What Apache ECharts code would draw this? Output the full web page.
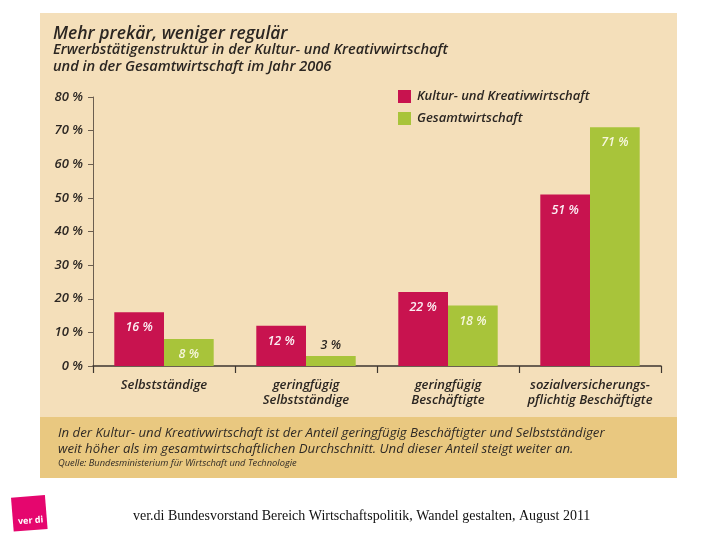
<!DOCTYPE html>
<html>
<head>
<meta charset="utf-8">
<script src="https://cdn.jsdelivr.net/npm/echarts@6/dist/echarts.min.js"></script>
<style>
  * { margin: 0; padding: 0; }
  body { background: #fff; }
</style>
</head>
<body>
<div id="main" style="width: 720px; height: 540px;"></div>
<script>
  // Daten
  var kategorien = ['Selbstständige', 'geringfügig\nSelbstständige', 'geringfügig\nBeschäftigte', 'sozialversicherungs-\npflichtig Beschäftigte']
  var kulturWerte = [16, 12, 22, 51]
  var gesamtWerte = [8, 3, 18, 71]
  var serienNamen = ['Kultur- und Kreativwirtschaft', 'Gesamtwirtschaft']
  var yTicks = [0, 10, 20, 30, 40, 50, 60, 70, 80]

  var schrift = '"Open Sans", "Noto Sans", sans-serif'
  var dunkel = '#2b2622'

  // kleine Werte bekommen das Label über dem Balken
  function labelDaten(werte, hell) {
    return werte.map(function (v) {
      if (v < 5) {
        return { value: v, label: { position: 'top', distance: 4, color: dunkel } }
      }
      return { value: v, label: { color: hell } }
    })
  }

  var chart = echarts.init(document.getElementById('main'))
  chart.setOption({
    backgroundColor: '#ffffff',
    animation: false,
    textStyle: { fontFamily: schrift },
    graphic: [
      { type: 'rect', z: -100, silent: true, shape: { x: 40, y: 13, width: 637, height: 465 }, style: { fill: '#f4dfba' } },
      { type: 'rect', z: -99, silent: true, shape: { x: 40, y: 417, width: 637, height: 61 }, style: { fill: '#e9c880' } },
      { type: 'text', left: 53, top: 25, style: { text: 'Mehr prekär, weniger regulär', font: 'italic 600 17.5px ' + schrift, fill: dunkel } },
      { type: 'text', left: 53, top: 42, style: { text: 'Erwerbstätigenstruktur in der Kultur- und Kreativwirtschaft\nund in der Gesamtwirtschaft im Jahr 2006', font: 'italic 600 14.6px ' + schrift, fill: dunkel, lineHeight: 16.5 } },
      { type: 'text', left: 58, top: 425, style: { text: 'In der Kultur- und Kreativwirtschaft ist der Anteil geringfügig Beschäftigter und Selbstständiger\nweit höher als im gesamtwirtschaftlichen Durchschnitt. Und dieser Anteil steigt weiter an.', font: 'italic 13.2px ' + schrift, fill: '#2f2a25', lineHeight: 16 } },
      { type: 'text', left: 58, top: 459, style: { text: 'Quelle: Bundesministerium für Wirtschaft und Technologie', font: 'italic 9.3px ' + schrift, fill: '#2f2a25' } },
      {
        type: 'group', left: 11, top: 495, rotation: 0.08,
        children: [
          { type: 'rect', shape: { x: 0, y: 0, width: 34, height: 34 }, style: { fill: '#e5066e' } },
          { type: 'text', left: 5, top: 20, style: { text: 'ver di', font: 'bold 9px "Noto Sans", sans-serif', fill: '#ffffff' } }
        ]
      },
      { type: 'text', left: 133, top: 509, style: { text: 'ver.di Bundesvorstand Bereich Wirtschaftspolitik, Wandel gestalten, August 2011', font: '14px "Liberation Serif", serif', fill: '#111111' } }
    ],
    legend: {
      data: serienNamen,
      orient: 'vertical',
      left: 393,
      top: 85,
      icon: 'rect',
      itemWidth: 13,
      itemHeight: 13,
      itemGap: 9,
      textStyle: { fontFamily: schrift, fontStyle: 'italic', fontWeight: 600, fontSize: 13, color: dunkel, padding: [0, 0, 0, 1] }
    },
    grid: { left: 93, right: 59, top: 97, bottom: 174, containLabel: false },
    xAxis: {
      type: 'category',
      data: kategorien,
      axisLine: { lineStyle: { color: '#3d3630', width: 1.5 } },
      axisTick: { show: true, interval: 0, length: 7, lineStyle: { color: '#3d3630', width: 1.2 } },
      axisLabel: {
        interval: 0, margin: 12,
        fontFamily: schrift, fontStyle: 'italic', fontWeight: 600, fontSize: 13, color: dunkel, lineHeight: 15
      }
    },
    yAxis: {
      type: 'value',
      min: 0, max: 80, interval: 10,
      splitLine: { show: false },
      axisLine: { show: true, lineStyle: { color: '#6b5e50', width: 1 } },
      axisTick: { show: true, length: 5, inside: false, lineStyle: { color: '#6b5e50' } },
      axisLabel: {
        margin: 10,
        fontFamily: schrift, fontStyle: 'italic', fontWeight: 600, fontSize: 13, color: dunkel,
        formatter: function (v) { return yTicks.indexOf(v) >= 0 ? v + ' %' : '' }
      }
    },
    series: [
      {
        name: serienNamen[0],
        type: 'bar',
        data: labelDaten(kulturWerte, '#fbeef3'),
        itemStyle: { color: '#c8134f' },
        barGap: '0%',
        barCategoryGap: '30%',
        label: {
          show: true, position: 'insideTop', distance: 9,
          fontFamily: schrift, fontStyle: 'italic', fontWeight: 600, fontSize: 12.5,
          formatter: '{c} %'
        }
      },
      {
        name: serienNamen[1],
        type: 'bar',
        data: labelDaten(gesamtWerte, '#f6f6dc'),
        itemStyle: { color: '#a8c43a' },
        barGap: '0%',
        barCategoryGap: '30%',
        label: {
          show: true, position: 'insideTop', distance: 9,
          fontFamily: schrift, fontStyle: 'italic', fontWeight: 600, fontSize: 12.5,
          formatter: '{c} %'
        }
      }
    ]
  })
</script>
</body>
</html>
